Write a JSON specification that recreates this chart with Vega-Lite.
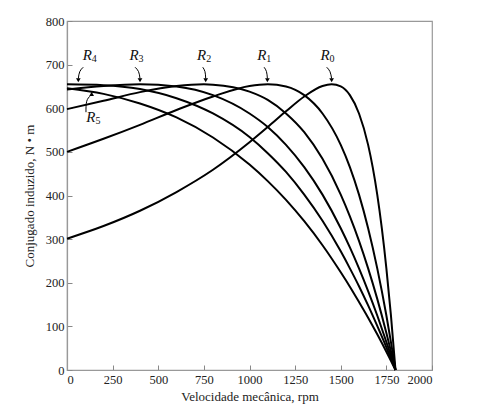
{
  "$schema": "https://vega.github.io/schema/vega-lite/v6.json",
  "width": 365,
  "height": 349,
  "autosize": "none",
  "padding": {"left": 67, "top": 21, "right": 50, "bottom": 46},
  "background": "white",
  "config": {
    "view": {"stroke": "#999", "strokeWidth": 1.2},
    "font": "Liberation Serif",
    "axis": {
      "labelFont": "Liberation Serif",
      "titleFont": "Liberation Serif",
      "labelFontSize": 12.5,
      "titleFontSize": 13,
      "titleFontWeight": "normal",
      "labelColor": "#222",
      "titleColor": "#222",
      "domainColor": "#999",
      "domainWidth": 1.2,
      "tickColor": "#888",
      "tickSize": -5,
      "grid": false
    }
  },
  "datasets": {
    "curves": [
      {"curve": "R0", "rpm": 0, "torque": 301}, {"curve": "R0", "rpm": 200, "torque": 330}, {"curve": "R0", "rpm": 400, "torque": 365}, {"curve": "R0", "rpm": 600, "torque": 408}, {"curve": "R0", "rpm": 800, "torque": 459}, {"curve": "R0", "rpm": 1000, "torque": 522}, {"curve": "R0", "rpm": 1100, "torque": 557}, {"curve": "R0", "rpm": 1200, "torque": 593}, {"curve": "R0", "rpm": 1300, "torque": 627}, {"curve": "R0", "rpm": 1400, "torque": 651}, {"curve": "R0", "rpm": 1450, "torque": 655}, {"curve": "R0", "rpm": 1500, "torque": 650}, {"curve": "R0", "rpm": 1550, "torque": 630}, {"curve": "R0", "rpm": 1600, "torque": 588}, {"curve": "R0", "rpm": 1650, "torque": 516}, {"curve": "R0", "rpm": 1675, "torque": 465}, {"curve": "R0", "rpm": 1700, "torque": 402}, {"curve": "R0", "rpm": 1725, "torque": 325}, {"curve": "R0", "rpm": 1750, "torque": 233}, {"curve": "R0", "rpm": 1775, "torque": 125}, {"curve": "R0", "rpm": 1800, "torque": 0},
      {"curve": "R1", "rpm": 0, "torque": 500}, {"curve": "R1", "rpm": 200, "torque": 530}, {"curve": "R1", "rpm": 400, "torque": 562}, {"curve": "R1", "rpm": 600, "torque": 596}, {"curve": "R1", "rpm": 800, "torque": 627}, {"curve": "R1", "rpm": 1000, "torque": 651}, {"curve": "R1", "rpm": 1100, "torque": 655}, {"curve": "R1", "rpm": 1200, "torque": 650}, {"curve": "R1", "rpm": 1300, "torque": 630}, {"curve": "R1", "rpm": 1400, "torque": 588}, {"curve": "R1", "rpm": 1500, "torque": 516}, {"curve": "R1", "rpm": 1550, "torque": 465}, {"curve": "R1", "rpm": 1600, "torque": 402}, {"curve": "R1", "rpm": 1650, "torque": 325}, {"curve": "R1", "rpm": 1700, "torque": 233}, {"curve": "R1", "rpm": 1750, "torque": 125}, {"curve": "R1", "rpm": 1775, "torque": 64}, {"curve": "R1", "rpm": 1800, "torque": 0},
      {"curve": "R2", "rpm": 0, "torque": 598}, {"curve": "R2", "rpm": 200, "torque": 617}, {"curve": "R2", "rpm": 400, "torque": 637}, {"curve": "R2", "rpm": 600, "torque": 651}, {"curve": "R2", "rpm": 750, "torque": 655}, {"curve": "R2", "rpm": 800, "torque": 654}, {"curve": "R2", "rpm": 1000, "torque": 638}, {"curve": "R2", "rpm": 1100, "torque": 619}, {"curve": "R2", "rpm": 1200, "torque": 588}, {"curve": "R2", "rpm": 1300, "torque": 545}, {"curve": "R2", "rpm": 1400, "torque": 484}, {"curve": "R2", "rpm": 1500, "torque": 402}, {"curve": "R2", "rpm": 1550, "torque": 352}, {"curve": "R2", "rpm": 1600, "torque": 296}, {"curve": "R2", "rpm": 1650, "torque": 233}, {"curve": "R2", "rpm": 1700, "torque": 163}, {"curve": "R2", "rpm": 1750, "torque": 85}, {"curve": "R2", "rpm": 1775, "torque": 43}, {"curve": "R2", "rpm": 1800, "torque": 0},
      {"curve": "R3", "rpm": 0, "torque": 643}, {"curve": "R3", "rpm": 200, "torque": 651}, {"curve": "R3", "rpm": 400, "torque": 655}, {"curve": "R3", "rpm": 600, "torque": 650}, {"curve": "R3", "rpm": 800, "torque": 630}, {"curve": "R3", "rpm": 1000, "torque": 588}, {"curve": "R3", "rpm": 1100, "torque": 557}, {"curve": "R3", "rpm": 1200, "torque": 516}, {"curve": "R3", "rpm": 1300, "torque": 465}, {"curve": "R3", "rpm": 1400, "torque": 402}, {"curve": "R3", "rpm": 1500, "torque": 325}, {"curve": "R3", "rpm": 1550, "torque": 281}, {"curve": "R3", "rpm": 1600, "torque": 233}, {"curve": "R3", "rpm": 1650, "torque": 181}, {"curve": "R3", "rpm": 1700, "torque": 125}, {"curve": "R3", "rpm": 1750, "torque": 64}, {"curve": "R3", "rpm": 1775, "torque": 33}, {"curve": "R3", "rpm": 1800, "torque": 0},
      {"curve": "R4", "rpm": 0, "torque": 655}, {"curve": "R4", "rpm": 200, "torque": 653}, {"curve": "R4", "rpm": 400, "torque": 644}, {"curve": "R4", "rpm": 600, "torque": 623}, {"curve": "R4", "rpm": 800, "torque": 588}, {"curve": "R4", "rpm": 1000, "torque": 534}, {"curve": "R4", "rpm": 1100, "torque": 497}, {"curve": "R4", "rpm": 1200, "torque": 454}, {"curve": "R4", "rpm": 1300, "torque": 402}, {"curve": "R4", "rpm": 1400, "torque": 342}, {"curve": "R4", "rpm": 1500, "torque": 272}, {"curve": "R4", "rpm": 1550, "torque": 233}, {"curve": "R4", "rpm": 1600, "torque": 192}, {"curve": "R4", "rpm": 1650, "torque": 148}, {"curve": "R4", "rpm": 1700, "torque": 101}, {"curve": "R4", "rpm": 1750, "torque": 52}, {"curve": "R4", "rpm": 1775, "torque": 26}, {"curve": "R4", "rpm": 1800, "torque": 0},
      {"curve": "R5", "rpm": 0, "torque": 646}, {"curve": "R5", "rpm": 200, "torque": 633}, {"curve": "R5", "rpm": 400, "torque": 611}, {"curve": "R5", "rpm": 600, "torque": 579}, {"curve": "R5", "rpm": 800, "torque": 533}, {"curve": "R5", "rpm": 1000, "torque": 471}, {"curve": "R5", "rpm": 1100, "torque": 433}, {"curve": "R5", "rpm": 1200, "torque": 390}, {"curve": "R5", "rpm": 1300, "torque": 341}, {"curve": "R5", "rpm": 1400, "torque": 286}, {"curve": "R5", "rpm": 1500, "torque": 224}, {"curve": "R5", "rpm": 1550, "torque": 191}, {"curve": "R5", "rpm": 1600, "torque": 156}, {"curve": "R5", "rpm": 1650, "torque": 120}, {"curve": "R5", "rpm": 1700, "torque": 82}, {"curve": "R5", "rpm": 1750, "torque": 42}, {"curve": "R5", "rpm": 1775, "torque": 21}, {"curve": "R5", "rpm": 1800, "torque": 0}
    ],
    "arrows": [
      {"id": "R4", "ord": 1, "rpm": 89, "torque": 694}, {"id": "R4", "ord": 2, "rpm": 70, "torque": 684}, {"id": "R4", "ord": 3, "rpm": 62, "torque": 668},
      {"id": "R3", "ord": 1, "rpm": 373, "torque": 694}, {"id": "R3", "ord": 2, "rpm": 392, "torque": 684}, {"id": "R3", "ord": 3, "rpm": 400, "torque": 668},
      {"id": "R2", "ord": 1, "rpm": 744, "torque": 694}, {"id": "R2", "ord": 2, "rpm": 756, "torque": 684}, {"id": "R2", "ord": 3, "rpm": 760, "torque": 668},
      {"id": "R1", "ord": 1, "rpm": 1080, "torque": 694}, {"id": "R1", "ord": 2, "rpm": 1093, "torque": 684}, {"id": "R1", "ord": 3, "rpm": 1098, "torque": 668},
      {"id": "R0", "ord": 1, "rpm": 1423, "torque": 694}, {"id": "R0", "ord": 2, "rpm": 1441, "torque": 684}, {"id": "R0", "ord": 3, "rpm": 1450, "torque": 668},
      {"id": "R5", "ord": 1, "rpm": 104, "torque": 591}, {"id": "R5", "ord": 2, "rpm": 108, "torque": 616}, {"id": "R5", "ord": 3, "rpm": 129, "torque": 629}
    ],
    "heads": [
      {"rpm": 62, "torque": 664, "dir": "down"},
      {"rpm": 400, "torque": 664, "dir": "down"},
      {"rpm": 760, "torque": 664, "dir": "down"},
      {"rpm": 1098, "torque": 664, "dir": "down"},
      {"rpm": 1450, "torque": 664, "dir": "down"},
      {"rpm": 135, "torque": 633, "dir": "up"}
    ],
    "labels": [
      {"base": "R", "sub": "4", "rpm": 111, "torque": 721},
      {"base": "R", "sub": "3", "rpm": 367, "torque": 721},
      {"base": "R", "sub": "2", "rpm": 738, "torque": 721},
      {"base": "R", "sub": "1", "rpm": 1067, "torque": 721},
      {"base": "R", "sub": "0", "rpm": 1414, "torque": 721},
      {"base": "R", "sub": "5", "rpm": 131, "torque": 581}
    ]
  },
  "encoding": {
    "x": {
      "field": "rpm",
      "type": "quantitative",
      "scale": {"domain": [0, 2000], "nice": false},
      "axis": {
        "title": "Velocidade mecânica, rpm",
        "values": [0, 250, 500, 750, 1000, 1250, 1500, 1750, 2000],
        "format": "d",
        "labelPadding": 8,
        "titlePadding": 5
      }
    },
    "y": {
      "field": "torque",
      "type": "quantitative",
      "scale": {"domain": [0, 800], "nice": false},
      "axis": {
        "title": "Conjugado induzido, N • m",
        "values": [0, 100, 200, 300, 400, 500, 600, 700, 800],
        "format": "d",
        "labelPadding": 8,
        "titlePadding": 9
      }
    }
  },
  "layer": [
    {
      "data": {"name": "curves"},
      "mark": {"type": "line", "interpolate": "monotone", "color": "black", "strokeWidth": 2},
      "encoding": {"detail": {"field": "curve", "type": "nominal"}}
    },
    {
      "data": {"name": "arrows"},
      "mark": {"type": "line", "interpolate": "natural", "color": "black", "strokeWidth": 1},
      "encoding": {
        "detail": {"field": "id", "type": "nominal"},
        "order": {"field": "ord", "type": "quantitative"}
      }
    },
    {
      "data": {"name": "heads"},
      "mark": {"type": "point", "filled": true, "color": "black", "size": 22, "opacity": 1},
      "encoding": {
        "shape": {
          "field": "dir",
          "type": "nominal",
          "scale": {"domain": ["down", "up"], "range": ["triangle-down", "triangle-up"]},
          "legend": null
        }
      }
    },
    {
      "data": {"name": "labels"},
      "mark": {"type": "text", "font": "Liberation Serif", "fontStyle": "italic", "fontSize": 15, "color": "#111", "baseline": "middle", "align": "center"},
      "encoding": {"text": {"field": "base"}}
    },
    {
      "data": {"name": "labels"},
      "mark": {"type": "text", "font": "Liberation Serif", "fontSize": 10, "color": "#111", "baseline": "middle", "align": "center", "dx": 7, "dy": 4},
      "encoding": {"text": {"field": "sub"}}
    }
  ]
}
